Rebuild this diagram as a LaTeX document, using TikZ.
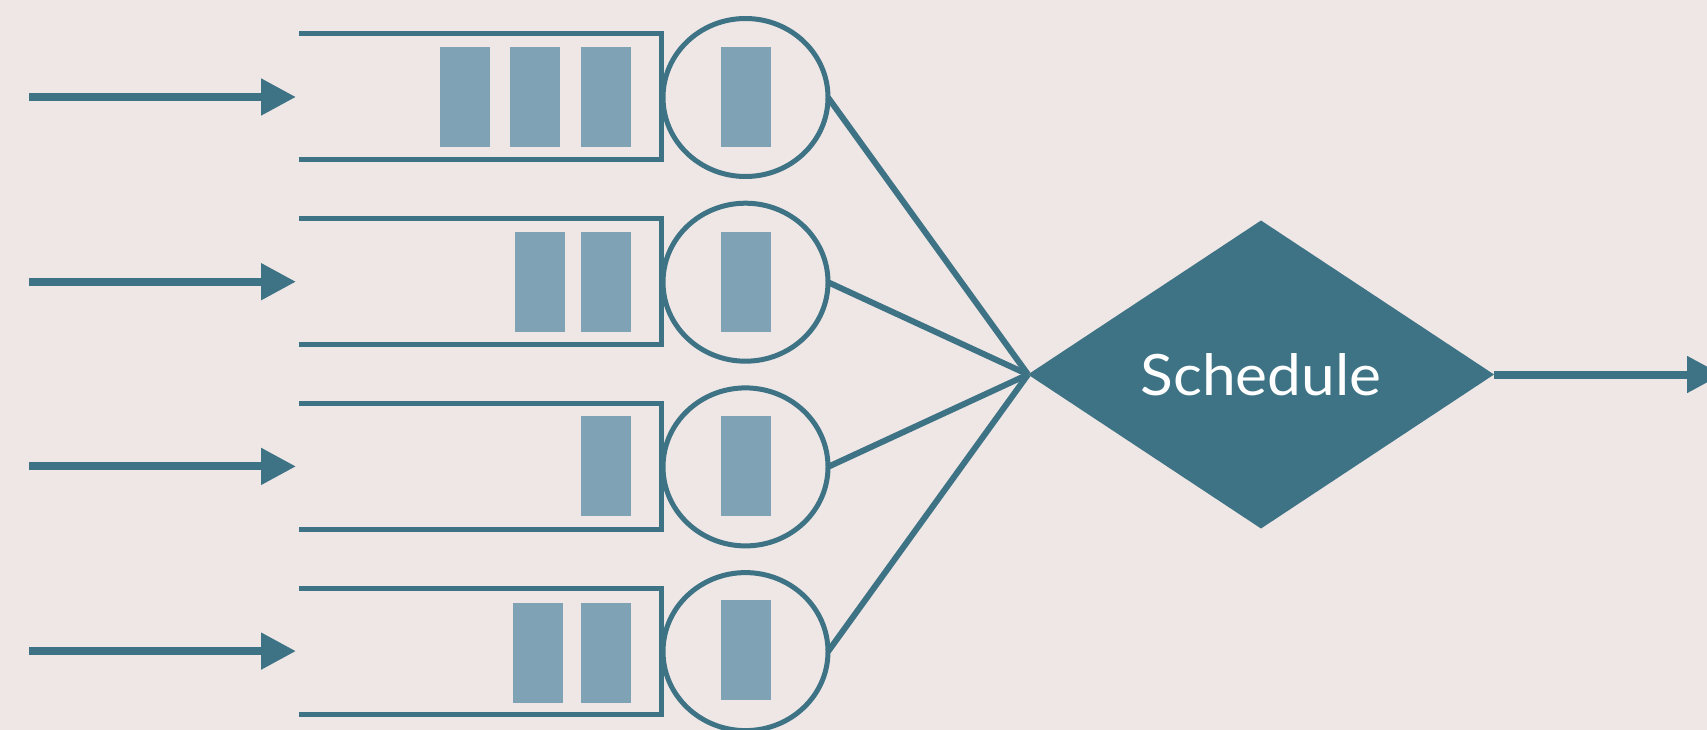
\documentclass[tikz,border=0pt]{standalone}
\usepackage{fontspec}
\usetikzlibrary{arrows.meta,shapes.geometric}
\newfontfamily\schedfont[FakeStretch=1.06]{Lato}
\definecolor{paper}{RGB}{239,231,229}
\definecolor{qteal}{RGB}{61,115,133}
\definecolor{jobfill}{RGB}{127,162,181}
\begin{document}
\begin{tikzpicture}[x=1pt,y=-1pt,
  inarrow/.style={draw=qteal, line width=8pt, -{Triangle[length=35pt,width=35pt]}},
  queue/.style={rectangle, minimum width=362pt, minimum height=126pt, inner sep=0pt, outer sep=0pt},
  qline/.style={draw=qteal, line width=5pt},
  job/.style={rectangle, fill=jobfill, minimum width=50pt, minimum height=100pt, inner sep=0pt, outer sep=0pt},
  server/.style={ellipse, draw=qteal, line width=5pt, minimum width=165pt, minimum height=158pt, inner sep=0pt, outer sep=0pt},
  link/.style={draw=qteal, line width=6pt},
  decide/.style={diamond, fill=qteal, minimum width=466pt, minimum height=308pt, inner sep=0pt, outer sep=0pt,
    text=white, font=\schedfont\fontsize{57}{60}\selectfont}]

% canvas
\fill[paper] (0,0) rectangle (1707,730);
\clip (0,0) rectangle (1707,730);
\useasboundingbox (0,0) rectangle (1707,730);

% queues
\node[queue] (q1) at (480,97) {};
\node[queue] (q2) at (480,281.7) {};
\node[queue] (q3) at (480,466.4) {};
\node[queue] (q4) at (480,651.1) {};
\foreach \q in {q1,q2,q3,q4}{
  \draw[qline] (\q.north west) -- (\q.north east) -- (\q.south east) -- (\q.south west);
}

% incoming arrivals
\coordinate (a1) at (29,97);
\coordinate (a2) at (29,281.7);
\coordinate (a3) at (29,466.4);
\coordinate (a4) at (29,651.1);
\foreach \i in {1,2,3,4}{
  \draw[inarrow, shorten >=3pt] (a\i) -- (q\i.west);
}

% waiting jobs
\node[job] (j11) at (464.8,97) {};
\node[job] (j12) at (534.5,97) {};
\node[job] (j13) at (606.4,97) {};
\node[job] (j21) at (540,281.7) {};
\node[job] (j22) at (606.4,281.7) {};
\node[job] (j31) at (606.4,466.4) {};
\node[job] (j41) at (537.8,653) {};
\node[job] (j42) at (606.4,653) {};

% servers with the job in service
\node[server] (c1) at (745.5,97.5) {};
\node[server] (c2) at (745.5,282.2) {};
\node[server] (c3) at (745.5,466.9) {};
\node[server] (c4) at (745.5,651.6) {};
\node[job] (s1) at (745.7,97) {};
\node[job] (s2) at (745.7,281.7) {};
\node[job] (s3) at (745.7,466.4) {};
\node[job] (s4) at (745.7,650) {};

% scheduler
\node[decide] (sched) at (1261,374.5) {Schedule};
\foreach \i in {1,2,3,4}{
  \draw[link] (c\i.east) -- (sched.west);
}

% departures
\coordinate (out) at (1722,374.5);
\draw[inarrow] (sched.east) -- (out);
\end{tikzpicture}
\end{document}
